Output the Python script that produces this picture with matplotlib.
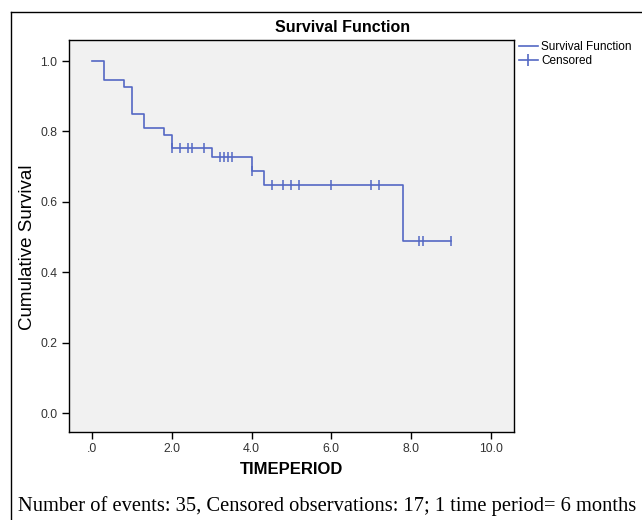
import matplotlib.pyplot as plt
import numpy as np
from matplotlib.lines import Line2D

# Kaplan-Meier steps
event_times = [0.3, 0.8, 1.0, 1.3, 1.8, 2.0, 3.0, 4.0, 4.3, 7.8]
survival = [0.945, 0.927, 0.849, 0.81, 0.79, 0.752, 0.726, 0.689, 0.648, 0.488]
censor_times = [2.0, 2.2, 2.4, 2.5, 2.8, 3.2, 3.3, 3.4, 3.5, 4.0,
                4.5, 4.8, 5.0, 5.2, 6.0, 7.0, 7.2, 8.2, 8.3, 9.0]
end_time = 9.0

x_ticks = [0, 2, 4, 6, 8, 10]
x_tick_labels = ['.0', '2.0', '4.0', '6.0', '8.0', '10.0']
y_ticks = [0.0, 0.2, 0.4, 0.6, 0.8, 1.0]

line_color = '#5468c4'
plt.rcParams['font.family'] = ['Liberation Sans', 'DejaVu Sans']

fig = plt.figure(figsize=(6.42, 5.2), dpi=100)
ax = fig.add_axes([0.1075, 0.1692, 0.693, 0.754])
ax.set_facecolor('#f1f1f1')

# step curve
t = np.concatenate([[0.0], event_times, [end_time]])
s = np.concatenate([[1.0], survival, [survival[-1]]])
ax.step(t, s, where='post', color=line_color, lw=1.2)

# censored marks sit on the curve
idx = np.searchsorted(event_times, censor_times, side='right')
s_full = np.concatenate([[1.0], survival])
ax.plot(censor_times, s_full[idx], ls='none', marker='|', ms=7, mew=1.1,
        color=line_color)

ax.set_xlim(-0.576, 10.576)
ax.set_ylim(-0.054, 1.06)
ax.set_xticks(x_ticks)
ax.set_xticklabels(x_tick_labels)
ax.set_yticks(y_ticks)
ax.set_yticklabels([f'{v:.1f}' for v in y_ticks])
ax.tick_params(labelsize=8.8, length=5, width=1, colors='black',
               labelcolor='#333333')
ax.tick_params(axis='x', pad=3)
for sp in ax.spines.values():
    sp.set_linewidth(1.0)

fig.text(343 / 642, 1 - 28 / 520, 'Survival Function', fontsize=11.5,
         fontweight='bold', ha='center', va='center')
ax.set_xlabel('TIMEPERIOD', fontsize=12, fontweight='bold', labelpad=5)
ax.set_ylabel('Cumulative Survival', fontsize=13.5)
ax.yaxis.set_label_coords(-0.074, 0.47)

# legend outside on the right
h1 = Line2D([0], [0], color=line_color, lw=1.2)
h2 = Line2D([0], [0], color=line_color, lw=1.2, marker='|', ms=9, mew=1.2)
ax.legend([h1, h2], ['Survival Function', 'Censored'],
          loc='upper left', bbox_to_anchor=(0.995, 1.015), frameon=False,
          fontsize=8.5, handlelength=1.6, handletextpad=0.3,
          labelspacing=0.15, borderaxespad=0.2)

# outer frame (top and left edges visible)
fig.add_artist(Line2D([11 / 642, 1.0], [1 - 12 / 520, 1 - 12 / 520],
                      transform=fig.transFigure, color='black', lw=1))
fig.add_artist(Line2D([11 / 642, 11 / 642], [0.0, 1 - 12 / 520],
                      transform=fig.transFigure, color='black', lw=1))

fig.text(18 / 642, 1 - 511 / 520,
         'Number of events: 35, Censored observations: 17; 1 time period= 6 months',
         fontsize=14.8, family='Liberation Serif')

fig.savefig('out.png', dpi=100)
